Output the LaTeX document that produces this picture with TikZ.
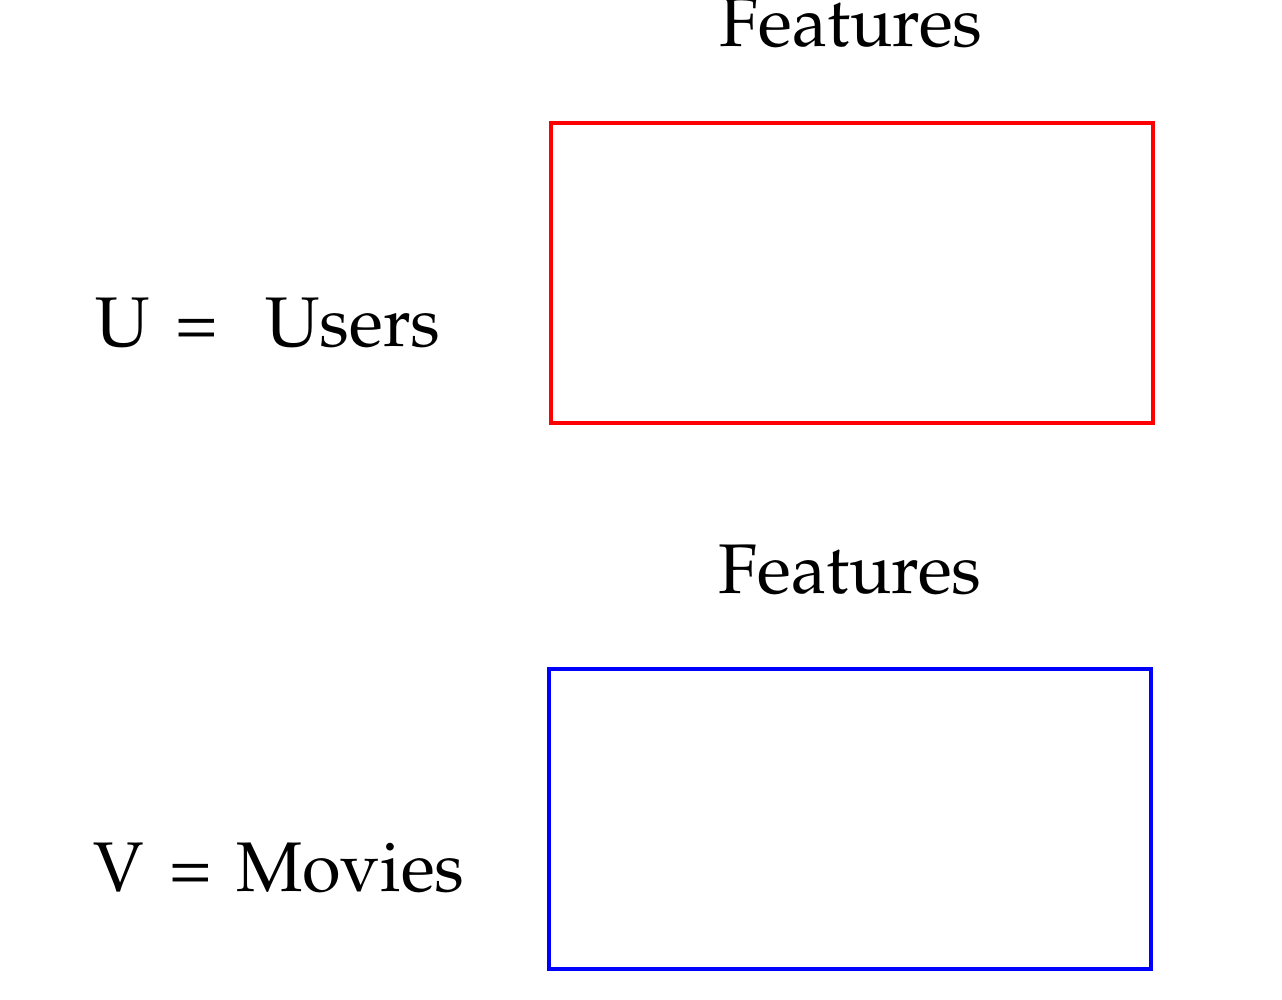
\documentclass[tikz,border=0pt]{standalone}
\usepackage[T1]{fontenc}
\usepackage{mathpazo}
\begin{document}
\begin{tikzpicture}[x=0.02cm,y=-0.02cm,
  lbl/.style={inner sep=0pt,outer sep=0pt,font=\fontsize{40}{48}\selectfont},
  mat/.style={line width=2.1pt}]
\useasboundingbox (0,0) rectangle (1282,1000);
\node[lbl,anchor=base] (f1) at (851,47) {Features};
\node[lbl,anchor=base west] (u) at (95,347) {U\ \kern0.12em=};
\node[lbl,anchor=base west] (users) at (265,347) {Users};
\draw[mat,red] (551,123) rectangle (1153,423);
\node[lbl,anchor=base] (f2) at (850,593) {Features};
\node[lbl,anchor=base west] (v) at (93,891) {V\ \kern0.12em=};
\node[lbl,anchor=base west] (movies) at (236,891) {Movies};
\draw[mat,blue] (549,669) rectangle (1151,969);
\end{tikzpicture}
\end{document}
